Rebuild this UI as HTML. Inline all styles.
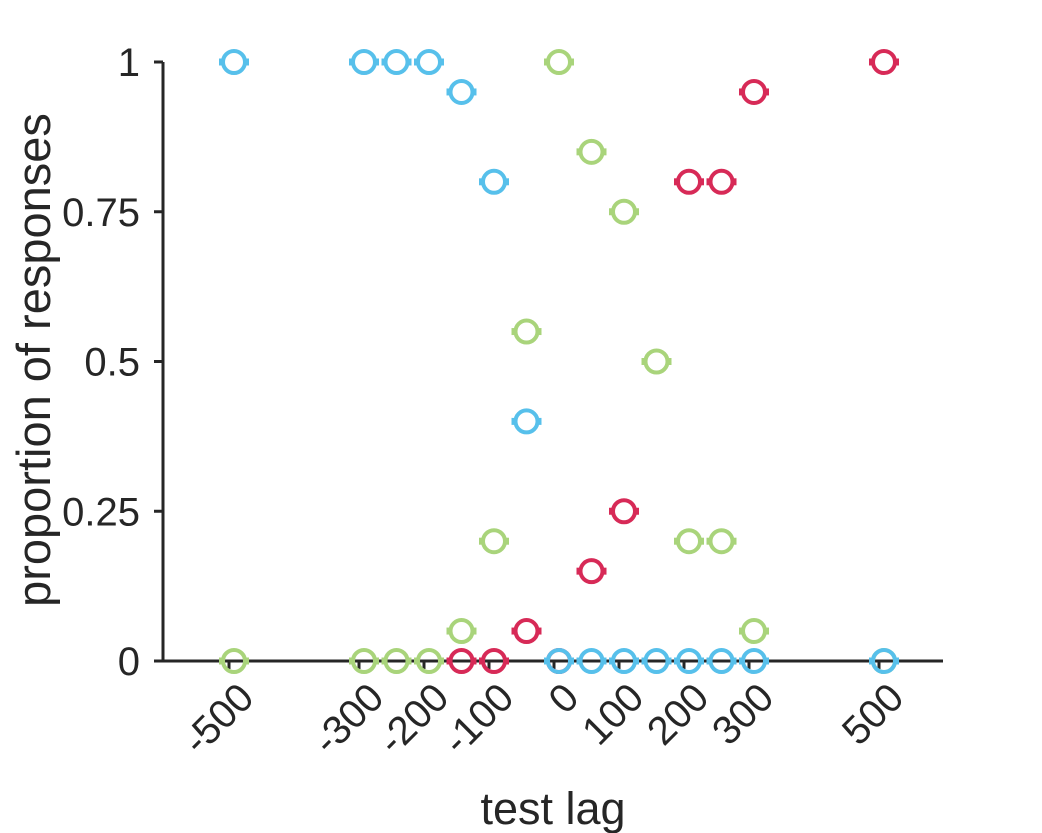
<!DOCTYPE html>
<html><head><meta charset="utf-8"><style>
html,body{margin:0;padding:0;background:#fff;}
svg{display:block;font-family:"Liberation Sans",sans-serif;}
</style></head><body>
<svg id="chart" width="1042" height="833" xmlns="http://www.w3.org/2000/svg">
<g id="axes"></g>
<g id="marks"></g>
<text transform="translate(50,360) rotate(-90)" text-anchor="middle" font-size="47" fill="#262626">proportion of responses</text>
<text x="553" y="824" text-anchor="middle" font-size="45" fill="#262626">test lag</text>
</svg>
<script>
const xTicks=[-500,-300,-200,-100,0,100,200,300,500];
const yTicks=[0,0.25,0.5,0.75,1];
const yTickLabels=["0","0.25","0.5","0.75","1"];
const blueX=[-500,-300,-250,-200,-150,-100,-50,0,50,100,150,200,250,300,500];
const blueY=[1,1,1,1,0.95,0.8,0.4,0,0,0,0,0,0,0,0];
const greenX=[-500,-300,-250,-200,-150,-100,-50,0,50,100,150,200,250,300,500];
const greenY=[0,0,0,0,0.05,0.2,0.55,1,0.85,0.75,0.5,0.2,0.2,0.05,0];
const redX=[-150,-100,-50,0,50,100,200,250,300,500];
const redY=[0,0,0.05,0,0.15,0.25,0.8,0.8,0.95,1];
const NS="http://www.w3.org/2000/svg";
const xs=v=>559+v*0.65;
const ys=v=>661-v*599;
const axes=document.getElementById('axes');
const marks=document.getElementById('marks');
function mk(tag,attrs,parent){const e=document.createElementNS(NS,tag);for(const k in attrs)e.setAttribute(k,attrs[k]);parent.appendChild(e);return e;}
let l=mk('line',{x1:163,y1:ys(1),x2:163,y2:ys(0)+1.5,stroke:'#262626','stroke-width':3},axes);


l=mk('line',{x1:161.5,y1:661,x2:943,y2:661,stroke:'#262626','stroke-width':3},axes);


yTicks.forEach((v,i)=>{
 const t=mk('line',{x1:154,y1:ys(v),x2:163,y2:ys(v),stroke:'#262626','stroke-width':3},axes);
 
 
 const tx=mk('text',{x:140,y:ys(v)+14,'text-anchor':'end','font-size':40,fill:'#262626'},axes);
 tx.textContent=yTickLabels[i];
 
 
});
xTicks.forEach(v=>{
 const t=mk('line',{x1:xs(v)-5,y1:661,x2:xs(v)-5,y2:669,stroke:'#262626','stroke-width':3},axes);
 
 
 const tx=mk('text',{'text-anchor':'end','font-size':40,fill:'#262626',transform:`translate(${xs(v)+22},${700}) rotate(-45)`},axes);
 tx.textContent=String(v);
 
 
});
function series(X,Y,color,name){
 X.forEach((x,i)=>{
  const cx=xs(x),cy=ys(Y[i]);
  const g=mk('g',{},marks);
  
  
  mk('line',{x1:cx-15,y1:cy,x2:cx-10,y2:cy,stroke:color,'stroke-width':7},g);
  mk('line',{x1:cx+10,y1:cy,x2:cx+15,y2:cy,stroke:color,'stroke-width':7},g);
  mk('circle',{cx:cx,cy:cy,r:11,fill:'none',stroke:color,'stroke-width':4},g);
 });
}
series(greenX,greenY,'#a9d47b','green-series');
series(redX,redY,'#d72a57','red-series');
series(blueX,blueY,'#57c0eb','blue-series');
</script>
</body></html>
